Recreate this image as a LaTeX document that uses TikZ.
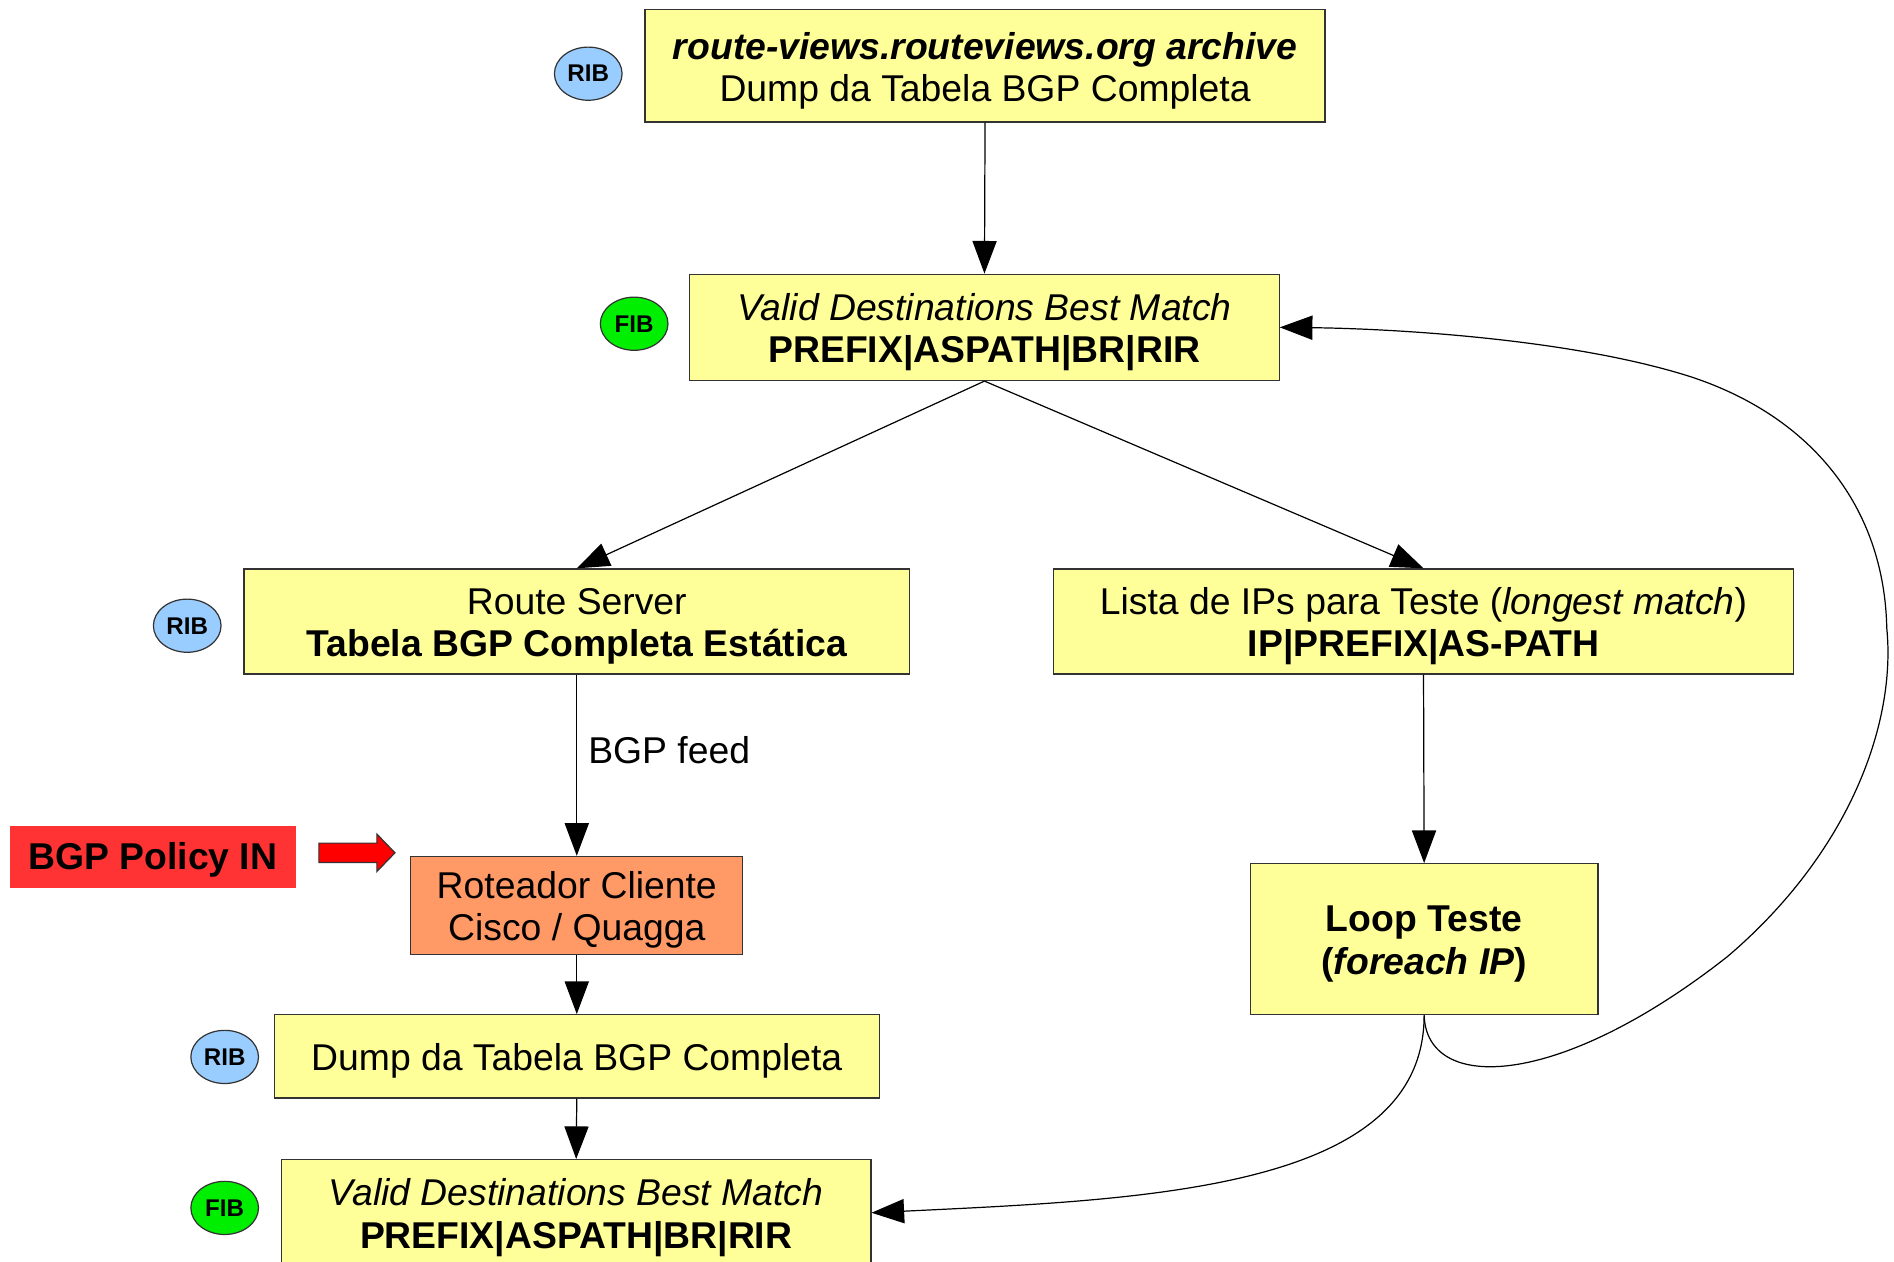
\documentclass[tikz,border=0pt]{standalone}
\usepackage{fontspec}
\setmainfont{Liberation Sans}
\usetikzlibrary{arrows.meta,shapes.geometric}

\definecolor{boxyellow}{HTML}{FFFF99}
\definecolor{ribblue}{HTML}{99CCFF}
\definecolor{fibgreen}{HTML}{00EE00}
\definecolor{policyred}{HTML}{FF3333}
\definecolor{routerorange}{HTML}{FF9966}
\definecolor{edgegray}{HTML}{333333}

\tikzset{
  stagebox/.style={draw=edgegray, line width=0.5pt, fill=boxyellow, inner sep=0pt},
  boxtext/.style={align=center, inner sep=0pt, yshift=-2pt,
    font=\fontsize{15.45}{17.5}\selectfont},
  tagoval/.style={ellipse, draw=edgegray, line width=0.5pt, inner sep=0pt,
    minimum width=28pt, minimum height=22pt, font=\fontsize{10}{12}\selectfont\bfseries},
  ribtag/.style={tagoval, fill=ribblue},
  fibtag/.style={tagoval, fill=fibgreen},
  conn/.style={draw=black, line width=0.5pt, -{Triangle[length=13.5pt,width=10pt]}},
  plainlabel/.style={font=\fontsize{15.45}{17.5}\selectfont, inner sep=0pt}
}

\begin{document}
\begin{tikzpicture}[x=0.5pt,y=-0.5pt]
  \fill[white] (0,0) rectangle (1568,1044);
  \useasboundingbox (0,0) rectangle (1568,1044);

  % data sources and tables
  \node[stagebox, minimum width=281.5pt, minimum height=46.5pt,
    label={[boxtext]center:{{\bfseries\itshape route-views.routeviews.org archive}\\Dump da Tabela BGP Completa}}]
    (top) at (815.5,54.5) {};
  \node[stagebox, minimum width=244pt, minimum height=44pt,
    label={[boxtext]center:{{\itshape Valid Destinations Best Match}\\{\bfseries PREFIX|ASPATH|BR|RIR}}}]
    (fib1) at (815,271) {};
  \node[stagebox, minimum width=275.5pt, minimum height=43.5pt,
    label={[boxtext]center:{Route Server\\{\bfseries Tabela BGP Completa Estática}}}]
    (rs) at (477.5,514.5) {};
  \node[stagebox, minimum width=306.5pt, minimum height=43.5pt,
    label={[boxtext]center:{Lista de IPs para Teste ({\itshape longest match})\\{\bfseries IP|PREFIX|AS-PATH}}}]
    (lista) at (1178.5,514.5) {};
  \node[stagebox, fill=routerorange, minimum width=137.5pt, minimum height=40.5pt,
    label={[boxtext]center:{Roteador Cliente\\Cisco / Quagga}}]
    (rot) at (477.5,749.5) {};
  \node[stagebox, minimum width=144pt, minimum height=62.5pt,
    label={[boxtext]center:{{\bfseries Loop Teste}\\{\bfseries(\itshape foreach IP\/\upshape)}}}]
    (loop) at (1179,777.5) {};
  \node[stagebox, minimum width=250.5pt, minimum height=34.5pt,
    label={[boxtext]center:{Dump da Tabela BGP Completa}}]
    (dump) at (477.5,874.5) {};
  \node[stagebox, minimum width=244pt, minimum height=44pt,
    label={[boxtext]center:{{\itshape Valid Destinations Best Match}\\{\bfseries PREFIX|ASPATH|BR|RIR}}}]
    (fib2) at (477,1004) {};

  % policy input
  \node[stagebox, draw=none, fill=policyred, minimum width=118.5pt, minimum height=25.5pt,
    label={[boxtext, yshift=1pt]center:{\bfseries BGP Policy IN}}]
    (policy) at (126.5,709.5) {};
  \draw[draw=edgegray, line width=0.5pt, fill=red]
    (264,698) -- (312,698) -- (312,690.5) -- (327,706) -- (312,721.5) -- (312,714) -- (264,714) -- cycle;

  % RIB / FIB tags
  \node[ribtag] (tagtop) at (487,61) {RIB};
  \node[fibtag] (tagfib1) at (525,268) {FIB};
  \node[ribtag] (tagrs) at (155,518) {RIB};
  \node[ribtag] (tagdump) at (186,875) {RIB};
  \node[fibtag] (tagfib2) at (186,1000) {FIB};

  % flow
  \draw[conn] (top.south) -- (fib1.north);
  \draw[conn] (fib1.south) -- (rs.north);
  \draw[conn] (fib1.south) -- (lista.north);
  \draw[conn] (rs.south) -- node[plainlabel, pos=0.49, anchor=base west, xshift=4.5pt] {BGP feed} (rot.north);
  \draw[conn] (lista.south) -- (loop.north);
  \draw[conn] (rot.south) -- (dump.north);
  \draw[conn] (dump.south) -- (fib2.north);

  % loop feedback and result
  \draw[conn] (loop.south) .. controls (1181,905) and (1290,902) .. (1430,792)
    .. controls (1530,707) and (1570,600) .. (1562,520)
    .. controls (1560,420) and (1500,345) .. (1400,312)
    .. controls (1300,280) and (1150,272) .. (fib1.east);
  \draw[conn] (loop.south) .. controls (1179,985) and (950,993) .. (fib2.east);
\end{tikzpicture}
\end{document}
